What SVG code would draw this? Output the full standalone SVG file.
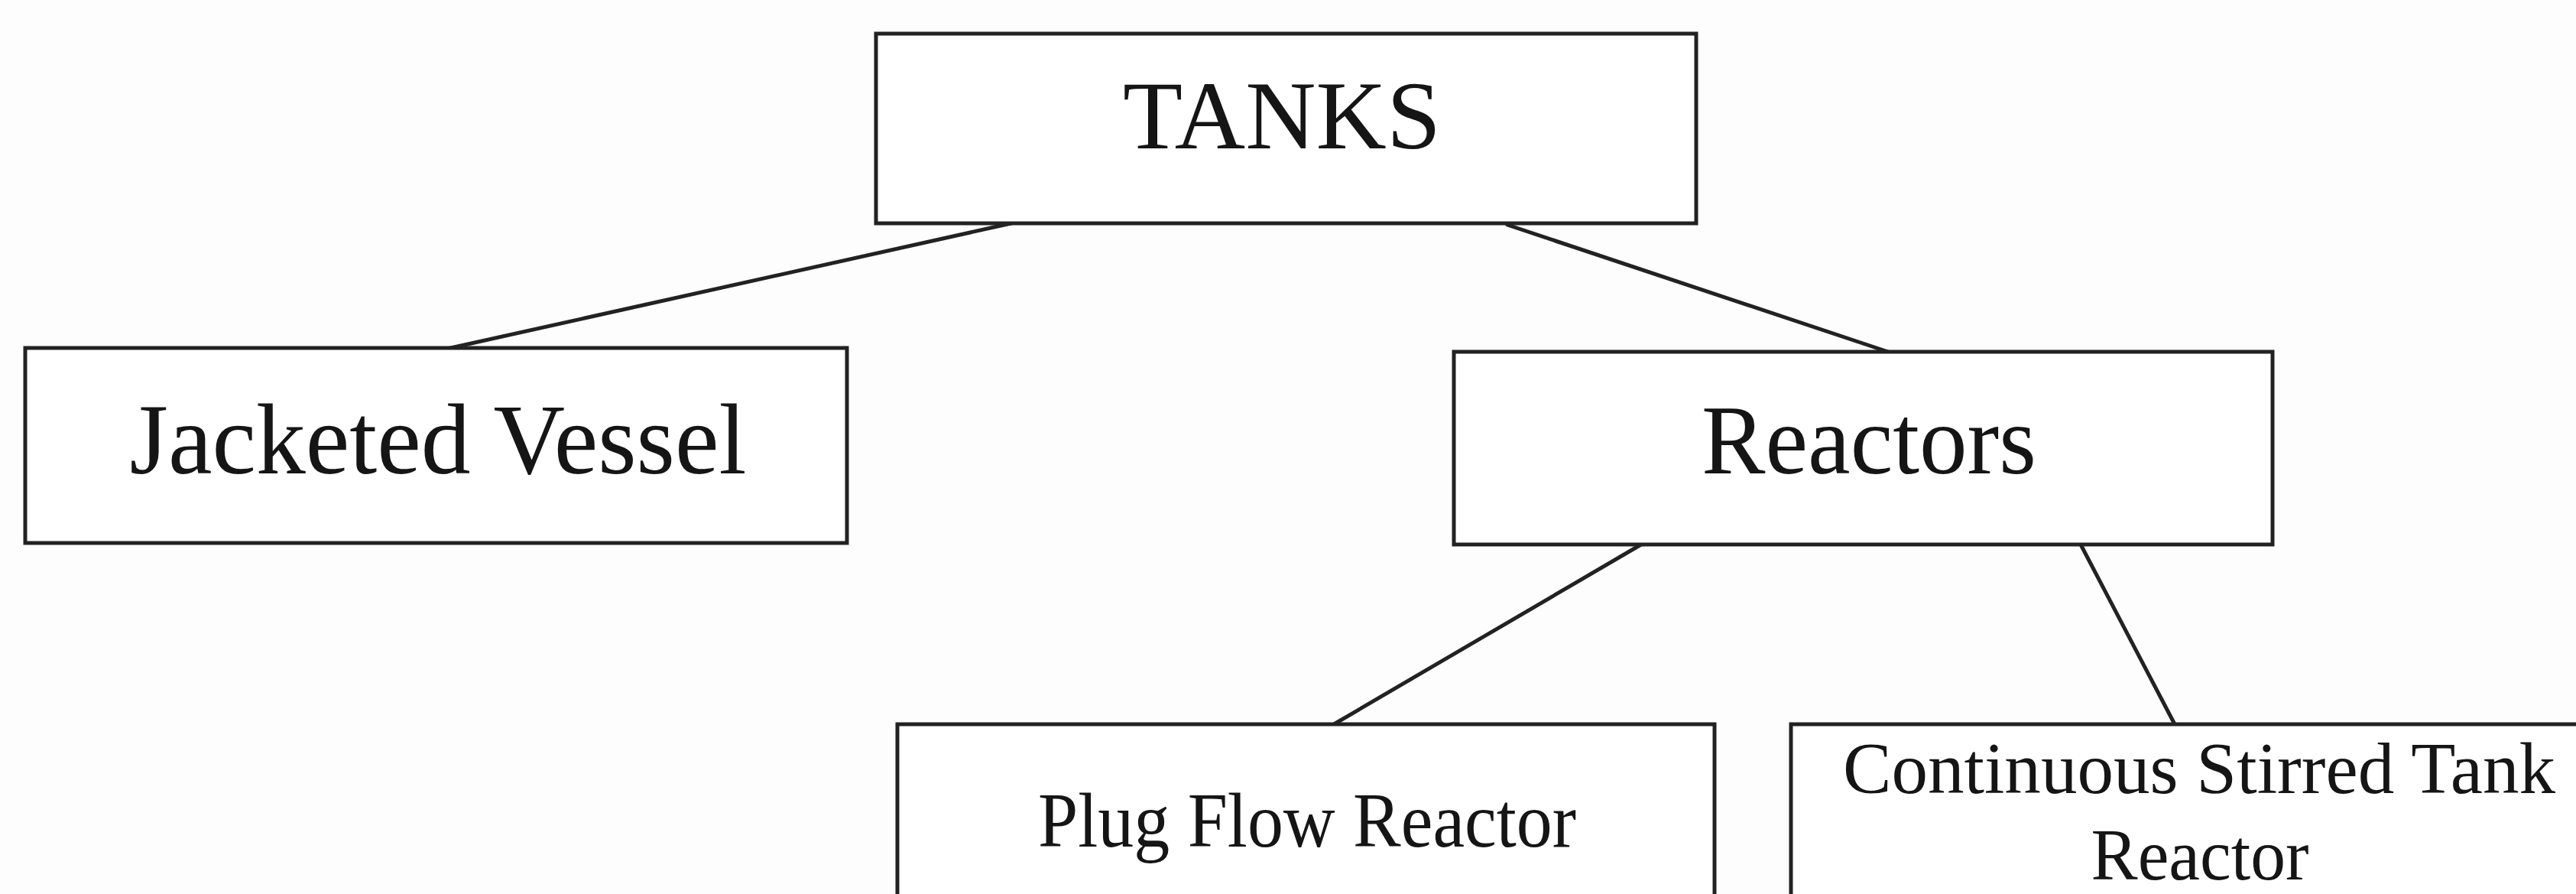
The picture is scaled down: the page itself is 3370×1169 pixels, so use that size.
<svg xmlns="http://www.w3.org/2000/svg" width="3370" height="1169" viewBox="0 0 3370 1169">
<style>
.box{fill:#ffffff;stroke:#222222;stroke-width:5}
.lbl{font-family:"Liberation Serif","Times New Roman",serif;fill:#151515;text-anchor:middle}
.conn{stroke:#222222;stroke-width:5;fill:none;stroke-linecap:round}
</style>
<rect x="0" y="0" width="3370" height="1169" fill="#fdfdfd"/>
<g id="connectors">
<line class="conn" x1="1323" y1="292" x2="585" y2="456"/>
<line class="conn" x1="1972" y1="294" x2="2470" y2="460"/>
<line class="conn" x1="2147" y1="712" x2="1745" y2="947"/>
<line class="conn" x1="2722" y1="712" x2="2845" y2="947"/>
</g>
<g id="tanks">
<rect class="box" x="1146" y="44" width="1073" height="248"/>
<text class="lbl" x="1677" y="194" font-size="127" textLength="416" lengthAdjust="spacingAndGlyphs">TANKS</text>
</g>
<g id="jacketed-vessel">
<rect class="box" x="33" y="455" width="1075" height="255"/>
<text class="lbl" x="573" y="619" font-size="131" textLength="807" lengthAdjust="spacingAndGlyphs">Jacketed Vessel</text>
</g>
<g id="reactors">
<rect class="box" x="1902" y="460" width="1071" height="252"/>
<text class="lbl" x="2445" y="619" font-size="130" textLength="438" lengthAdjust="spacingAndGlyphs">Reactors</text>
</g>
<g id="plug-flow-reactor">
<rect class="box" x="1174" y="947" width="1069" height="260"/>
<text class="lbl" x="1710" y="1107" font-size="101" textLength="704" lengthAdjust="spacingAndGlyphs">Plug Flow Reactor</text>
</g>
<g id="cstr">
<rect class="box" x="2343" y="947" width="1070" height="260"/>
<text class="lbl" x="2877" y="1037" font-size="95" textLength="932" lengthAdjust="spacingAndGlyphs">Continuous Stirred Tank</text>
<text class="lbl" x="2878" y="1150" font-size="95" textLength="285" lengthAdjust="spacingAndGlyphs">Reactor</text>
</g>
</svg>
